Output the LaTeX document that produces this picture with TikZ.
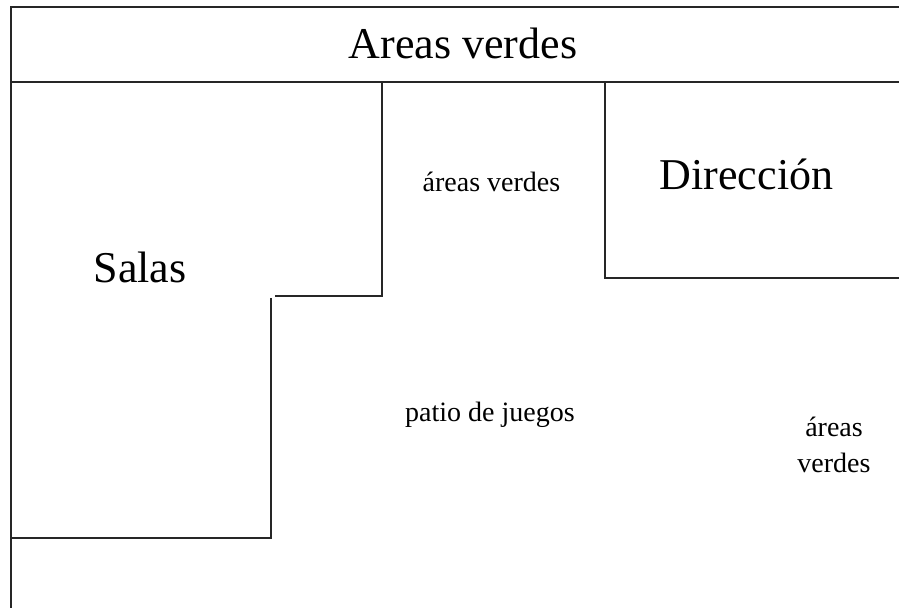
\documentclass[tikz,border=0pt]{standalone}
\usepackage{fontspec}
\setmainfont{Liberation Serif}
\usepackage{tikz}

\tikzset{
  wall/.style={line width=2pt, black!85},
  bigtxt/.style={font=\fontsize{44}{52}\selectfont, inner sep=0pt},
  smalltxt/.style={font=\fontsize{28}{36}\selectfont, inner sep=0pt, align=center}
}

\begin{document}
\begin{tikzpicture}[x=1pt, y=-1pt]
    \useasboundingbox (0, 0) rectangle (899, 608);
    \draw[wall] (899, 6.5) -- (11, 6.5) -- (11, 608);
    \draw[wall] (11, 82) -- (899, 82);
    \draw[wall] (382, 82) -- (382, 296) -- (275, 296);
    \draw[wall] (271, 298) -- (271, 537.5) -- (11, 537.5);
    \draw[wall] (605, 82) -- (605, 278) -- (899, 278);
    \node[bigtxt, anchor=base] (areas) at (463, 58) {Areas verdes};
    \node[bigtxt, anchor=base] (salas) at (140, 282) {Salas};
    \node[bigtxt, anchor=base] (direccion) at (746.5, 189) {Dirección};
    \node[smalltxt, anchor=base] (verdes1) at (491.5, 191) {áreas verdes};
    \node[smalltxt, anchor=base] (patio) at (490, 421) {patio de juegos};
    \node[smalltxt, anchor=south] (verdes2) at (834, 473) {áreas\\verdes};
\end{tikzpicture}
\end{document}
